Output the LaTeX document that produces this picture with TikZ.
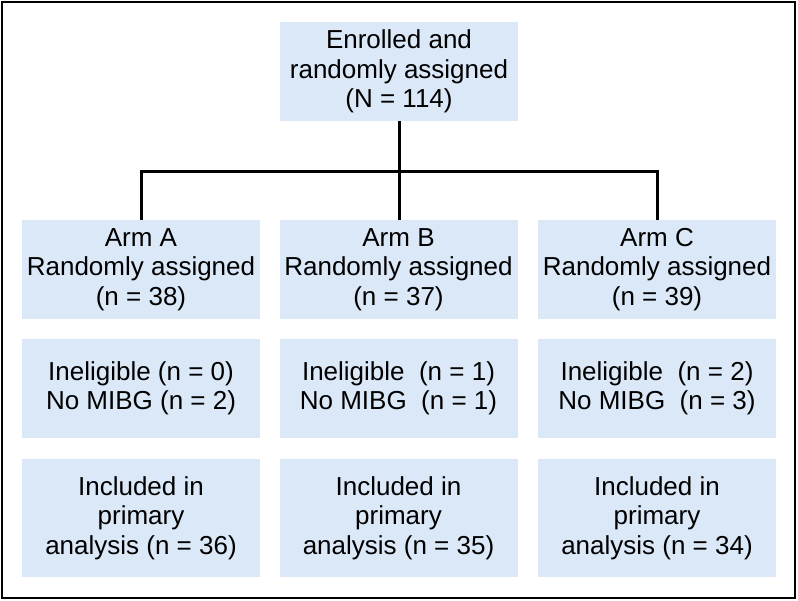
\documentclass[tikz,border=0pt]{standalone}
\usepackage{fontspec}
\setmainfont{Liberation Sans}
\definecolor{mfill}{rgb}{0.86, 0.91, 0.97}
\tikzset{flowbox/.style = {fill = mfill, align = center, inner sep = 0,
    minimum width = 238, minimum height = 99,
    font = \fontsize{26}{29.5}\selectfont}}
\tikzset{link/.style = {line width = 3}}

\begin{document}
\begin{tikzpicture}[x = 1pt, y = -1pt]
      \useasboundingbox (0, 0) rectangle (798, 600);
      \draw [line width = 2] (2, 2) rectangle (795, 598);

      \node [flowbox] (enrolled) at (399, 71.5) {Enrolled and\\randomly assigned\\(N = 114)};

      \node [flowbox] (armA) at (141, 269.5) {Arm A\\Randomly assigned\\(n = 38)};
      \node [flowbox] (armB) at (398.5, 269.5) {Arm B\\Randomly assigned\\(n = 37)};
      \node [flowbox] (armC) at (657, 269.5) {Arm C\\Randomly assigned\\(n = 39)};

      \node [flowbox] (exclA) at (141, 388.5) {Ineligible (n = 0)\\No MIBG (n = 2)};
      \node [flowbox] (exclB) at (398.5, 388.5) {Ineligible\ \ (n = 1)\\No MIBG\ \ (n = 1)};
      \node [flowbox] (exclC) at (657, 388.5) {Ineligible\ \ (n = 2)\\No MIBG\ \ (n = 3)};

      \node [flowbox, minimum height = 118] (inclA) at (141, 518) {Included in\\primary\\analysis (n = 36)};
      \node [flowbox, minimum height = 118] (inclB) at (398.5, 518) {Included in\\primary\\analysis (n = 35)};
      \node [flowbox, minimum height = 118] (inclC) at (657, 518) {Included in\\primary\\analysis (n = 34)};

      \coordinate (split) at (399, 171);
      \draw [link] (enrolled.south) -- (split);
      \draw [link] (split) -- (split |- armB.north);
      \draw [link] (armA.north) |- (split) -| (armC.north);
    \end{tikzpicture}
\end{document}
